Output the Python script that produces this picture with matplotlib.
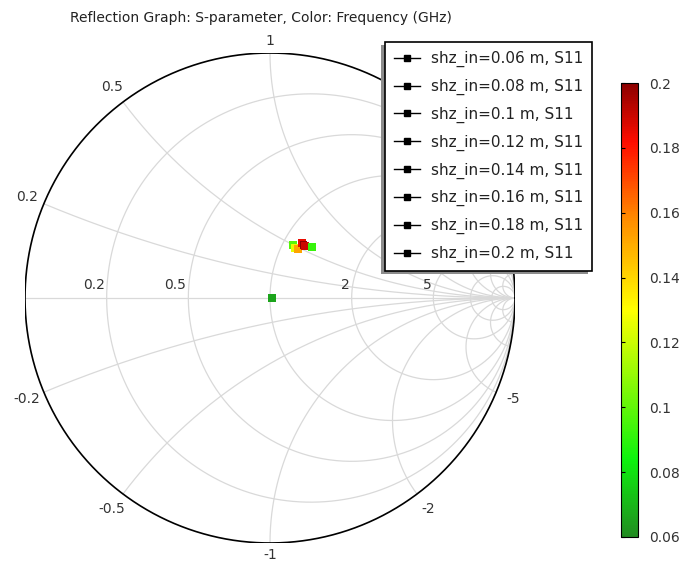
import numpy as np
import matplotlib
matplotlib.use("Agg")
import matplotlib.pyplot as plt
from matplotlib.colors import LinearSegmentedColormap, Normalize
from matplotlib.lines import Line2D
from matplotlib.patches import Rectangle
import matplotlib.cm as cm

# data (reflection coefficient, frequency in GHz)
series = ["shz_in=0.06 m, S11", "shz_in=0.08 m, S11", "shz_in=0.1 m, S11",
          "shz_in=0.12 m, S11", "shz_in=0.14 m, S11", "shz_in=0.16 m, S11",
          "shz_in=0.18 m, S11", "shz_in=0.2 m, S11"]
gamma_re = [0.008, 0.093, 0.102, 0.115, 0.131, 0.136, 0.143, 0.171]
gamma_im = [0.000, 0.216, 0.204, 0.200, 0.225, 0.216, 0.212, 0.208]
freq = [0.066, 0.098, 0.125, 0.152, 0.185, 0.2, 0.19, 0.092]

r_grid = [0.2, 0.5, 1, 2, 5, 10, 20]
x_grid = [0.2, 0.5, 1, 2, 5, 10, 20]
r_labels = [0.2, 0.5, 2, 5]
x_labels = [0.5, 0.2, 1, -0.2, -0.5, -1, -2, -5]

cbar_ticks = [0.06, 0.08, 0.1, 0.12, 0.14, 0.16, 0.18, 0.2]

# green -> yellow -> red like the COMSOL traffic light table
traffic = LinearSegmentedColormap.from_list("traffic", [
    (0.0, (0.13, 0.55, 0.13)),
    (0.17, (0.05, 0.95, 0.05)),
    (0.5, (1.0, 1.0, 0.0)),
    (0.7, (1.0, 0.55, 0.0)),
    (0.87, (1.0, 0.05, 0.0)),
    (1.0, (0.55, 0.0, 0.0))])
norm = Normalize(0.06, 0.2)

fig = plt.figure(figsize=(6.86, 5.65), dpi=100)
W, H = 686, 565
ax = fig.add_axes([25 / W, 22 / H, 490 / W, 490 / H])
ax.set_xlim(-1, 1)
ax.set_ylim(-1, 1)
ax.axis("off")

gc = "#d9d9d9"
t = np.linspace(0, 2 * np.pi, 600)
# constant resistance circles
for r in r_grid:
    c = r / (1 + r); rad = 1 / (1 + r)
    ax.plot(c + rad * np.cos(t), rad * np.sin(t), color=gc, lw=0.9, zorder=1)
# constant reactance arcs
rr = np.tan(np.linspace(0, np.pi / 2 - 1e-4, 800))
for x in x_grid:
    for s in (1, -1):
        z = rr + 1j * s * x
        g = (z - 1) / (z + 1)
        ax.plot(g.real, g.imag, color=gc, lw=0.9, zorder=1)
ax.plot([-1, 1], [0, 0], color=gc, lw=0.9, zorder=1)
ax.plot(np.cos(t), np.sin(t), color="black", lw=1.2, zorder=2)

# labels
for r in r_labels:
    g = (r - 1) / (r + 1)
    ax.annotate(str(r), (g, 0), xytext=(-1.5, 4), textcoords="offset points",
                ha="right", va="bottom", fontsize=10, color="#333333")
for x in x_labels:
    g = (1j * x - 1) / (1j * x + 1)
    rl = 1.05 if abs(x) == 1 else 1.075
    ax.text(rl * g.real, rl * g.imag, str(x), ha="center", va="center",
            fontsize=10, color="#333333", clip_on=False)

ax.scatter(gamma_re, gamma_im, c=freq, cmap=traffic, norm=norm, marker="s",
           s=30, linewidths=0, zorder=5)

fig.text(70 / W, 1 - 18 / H, "Reflection Graph: S-parameter, Color: Frequency (GHz)",
         va="center", ha="left", fontsize=10, color="#222222")

handles = [Line2D([0], [0], color="black", lw=1, marker="s", markersize=4)
           for _ in series]
leg = fig.legend(handles, series, loc="upper left",
                 bbox_to_anchor=(385 / W, 1 - 42 / H), fontsize=11,
                 labelspacing=0.76, handlelength=1.7, handletextpad=0.7,
                 borderpad=0.6, borderaxespad=0, fancybox=False)
leg.get_frame().set_edgecolor("black")
leg.get_frame().set_linewidth(1.2)
leg.get_frame().set_alpha(1)
for txt in leg.get_texts():
    txt.set_color("#222222")

fig.canvas.draw()
bb = leg.get_window_extent()
fig.patches.append(Rectangle((bb.x0 - 4, bb.y0 - 3), bb.width, bb.height,
                             transform=None, facecolor="#8c8c8c",
                             edgecolor="none", zorder=0))

cax = fig.add_axes([621 / W, 28 / H, 17 / W, 454 / H])
cb = fig.colorbar(cm.ScalarMappable(norm=norm, cmap=traffic), cax=cax,
                  ticks=cbar_ticks)
cb.ax.set_yticklabels([f"{v:g}" for v in cbar_ticks])
cb.ax.tick_params(axis="y", direction="in", left=True, right=False,
                  labelright=True, length=3, labelsize=10, labelcolor="#333333",
                  pad=8)
cb.outline.set_linewidth(0.8)

fig.savefig("out.png", dpi=100)
